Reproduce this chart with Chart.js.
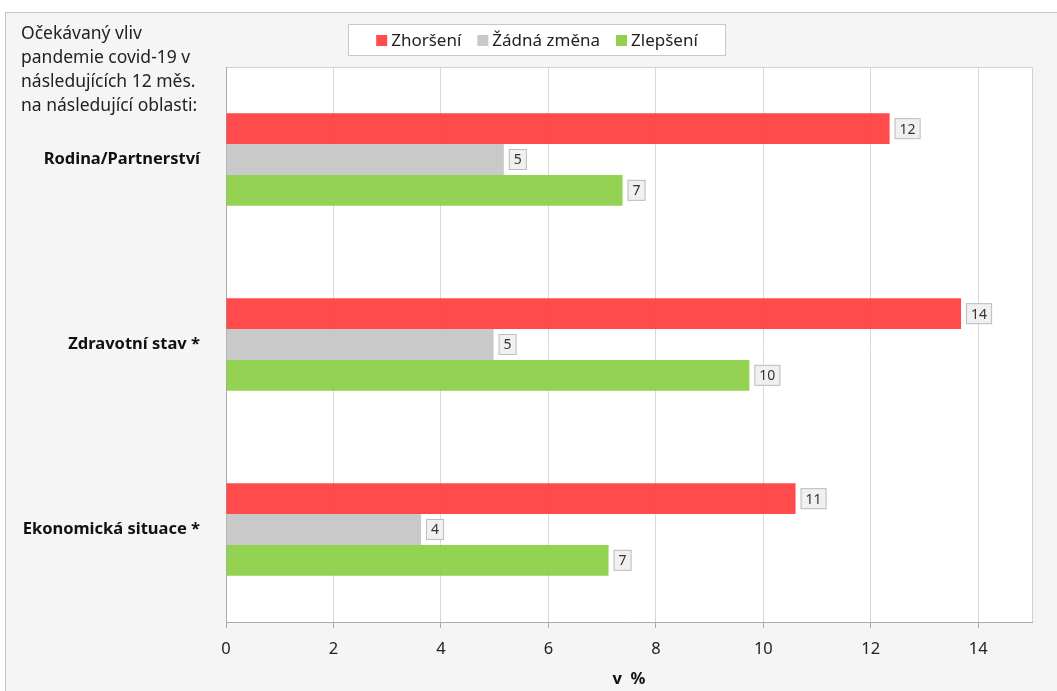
<!DOCTYPE html>
<html>
<head>
<meta charset="utf-8">
<script src="https://cdn.jsdelivr.net/npm/chart.js@4/dist/chart.umd.min.js"></script>
<style>
  html, body { margin: 0; padding: 0; background: #fff; }
  #panel {
    position: absolute; left: 5px; top: 12px; width: 1060px; height: 690px;
    background: #f5f5f5; border: 1px solid #c4c4c4;
  }
  #wrap { position: absolute; left: 0; top: 0; width: 1057px; height: 691px; }
</style>
</head>
<body>
<div id="panel"></div>
<div id="wrap"><canvas id="chart" width="1057" height="691"></canvas></div>
<script>
var
    categories  = ['Rodina/Partnerství', 'Zdravotní stav *', 'Ekonomická situace *']
  , seriesNames = ['Zhoršení', 'Žádná změna', 'Zlepšení']
  , zhorseni    = [12.35, 13.68, 10.6]
  , zadnaZmena  = [5.17, 4.98, 3.63]
  , zlepseni    = [7.38, 9.74, 7.12]
  , noteLines   = ['Očekávaný vliv', 'pandemie covid-19 v', 'následujících 12 měs.', 'na následující oblasti:']
  , axisTitle   = 'v  %'

var FONT = '"Noto Sans", "Open Sans", sans-serif'

// plot background, value boxes, note and legend
var decorPlugin = {
    id: 'decor'
  , beforeDraw: function (chart) {
      var ctx = chart.ctx, a = chart.chartArea
      ctx.save()
      ctx.fillStyle = '#fff'
      ctx.fillRect(a.left, a.top, a.right - a.left, a.bottom - a.top)
      ctx.strokeStyle = '#d0d0d0'
      ctx.lineWidth = 1
      ctx.beginPath()
      ctx.moveTo(a.left, a.top + 0.5)
      ctx.lineTo(a.right + 0.5, a.top + 0.5)
      ctx.lineTo(a.right + 0.5, a.bottom)
      ctx.stroke()
      ctx.restore()
    }
  , afterDatasetsDraw: function (chart) {
      var ctx = chart.ctx
      ctx.save()
      ctx.font = '14px ' + FONT
      ctx.textBaseline = 'middle'
      ctx.textAlign = 'center'
      chart.data.datasets.forEach(function (ds, i) {
        chart.getDatasetMeta(i).data.forEach(function (bar, j) {
          var
              txt = String(Math.round(ds.data[j]))
            , w   = ctx.measureText(txt).width + 10
            , h   = 21
            , x   = bar.x + 5
            , y   = bar.y - h / 2
          ctx.fillStyle = '#f0f0f0'
          ctx.fillRect(x, y, w, h)
          ctx.strokeStyle = '#bdbdbd'
          ctx.strokeRect(x + 0.5, y + 0.5, w - 1, h - 1)
          ctx.fillStyle = '#333'
          ctx.fillText(txt, x + w / 2, y + h / 2 + 1)
        })
      })
      ctx.restore()
    }
  , afterDraw: function (chart) {
      var ctx = chart.ctx
      ctx.save()
      ctx.font = '17.5px ' + FONT
      ctx.fillStyle = '#222'
      ctx.textBaseline = 'middle'
      ctx.textAlign = 'left'
      for (var i = 0; i < noteLines.length; i++)
        ctx.fillText(noteLines[i], 21, 34 + i * 24)

      // legend
      var
          items = chart.data.datasets
        , bx = 348, by = 24, bw = 378, bh = 32
      ctx.fillStyle = '#fff'
      ctx.fillRect(bx, by, bw, bh)
      ctx.strokeStyle = '#c8c8c8'
      ctx.strokeRect(bx + 0.5, by + 0.5, bw - 1, bh - 1)
      ctx.font = '17px ' + FONT
      var total = 0
      items.forEach(function (ds) { total += 11 + 4 + ctx.measureText(ds.label).width })
      total += 16 * (items.length - 1)
      var x = bx + (bw - total) / 2
      items.forEach(function (ds) {
        ctx.fillStyle = ds.legendColor
        ctx.fillRect(x, by + 11, 11, 11)
        ctx.fillStyle = '#222'
        ctx.fillText(ds.label, x + 15, by + bh / 2 + 1)
        x += 15 + ctx.measureText(ds.label).width + 16
      })
      ctx.restore()
    }
}

var ctx = document.getElementById('chart').getContext('2d')
new Chart(ctx, {
    type: 'bar'
  , data: {
        labels: categories
      , datasets: [
            { label: seriesNames[0], data: zhorseni,   backgroundColor: 'rgba(255,60,60,0.92)',   legendColor: '#ff4d4d' }
          , { label: seriesNames[1], data: zadnaZmena, backgroundColor: 'rgba(196,196,196,0.92)', legendColor: '#c9c9c9' }
          , { label: seriesNames[2], data: zlepseni,   backgroundColor: 'rgba(138,206,67,0.92)',  legendColor: '#92d050' }
        ]
    }
  , options: {
        indexAxis: 'y'
      , responsive: false
      , animation: false
      , layout: { padding: { top: 67, right: 25, bottom: 0, left: 0 } }
      , datasets: { bar: { categoryPercentage: 0.5, barPercentage: 1.0 } }
      , plugins: { legend: { display: false }, tooltip: { enabled: false } }
      , scales: {
            x: {
                min: 0
              , max: 15
              , afterBuildTicks: function (s) { s.ticks = s.ticks.filter(function (t) { return t.value % 2 === 0 }) }
              , ticks: { stepSize: 2, color: '#222', font: { size: 16.5, family: FONT }, padding: 11 }
              , grid: { color: '#d9d9d9', tickLength: 6, tickColor: '#aaa' }
              , border: { color: '#aaa' }
              , title: { display: true, text: axisTitle, color: '#111', font: { size: 16.5, weight: 'bold', family: FONT }, padding: { top: 0, bottom: 2 } }
              , afterFit: function (s) { s.height = 69 }
            }
          , y: {
                ticks: { color: '#111', font: { size: 16.5, weight: 'bold', family: FONT }, padding: 26 }
              , grid: { display: false, drawTicks: false }
              , border: { color: '#aaa' }
              , afterFit: function (s) { s.width = 226 }
            }
        }
    }
  , plugins: [decorPlugin]
})
</script>
</body>
</html>
